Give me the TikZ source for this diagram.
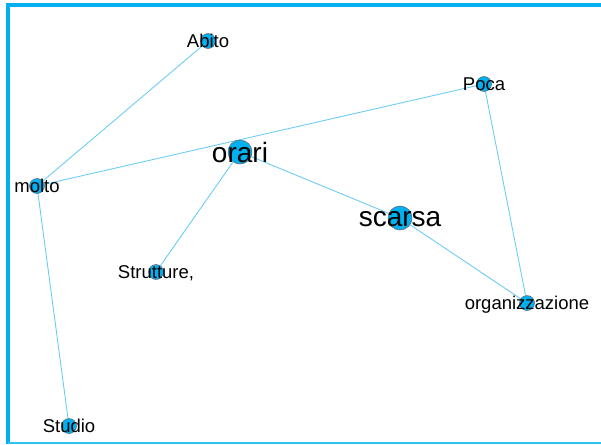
\documentclass[tikz,border=0pt]{standalone}
\usepackage{fontspec}
\setmainfont{Liberation Sans}
\usetikzlibrary{backgrounds}
\definecolor{nodeblue}{RGB}{0,176,240}
\definecolor{edgeblue}{RGB}{110,205,245}

\begin{document}
\begin{tikzpicture}[
  x=1pt,y=-1pt,
  vtx/.style={draw=black!60,line width=0.5pt,circle,fill=nodeblue,inner sep=0pt,
              minimum size=15pt},
  big/.style={vtx,minimum size=24pt},
  lab/.style={inner sep=0pt,text height=13.3pt,text depth=0pt,
              font=\fontsize{18.5}{20}\selectfont},
  biglab/.style={lab,text height=20.2pt,font=\fontsize{28}{30}\selectfont},
  link/.style={draw=edgeblue,line width=0.9pt}
]
\useasboundingbox (0,0) rectangle (601,444);

% ---- frame ----
\draw[nodeblue,line width=4pt] (8,444) -- (8,5.5) -- (601,5.5);
\draw[nodeblue!80,line width=1.5pt] (8,443) -- (601,443);

% ---- vertices ----
\node[vtx,label={[lab]center:Abito}] (abito) at (208,41) {};
\node[vtx,label={[lab]center:Poca}] (poca) at (484,84) {};
\node[big,label={[biglab]center:orari}] (orari) at (240,152) {};
\node[vtx,label={[lab]center:molto}] (molto) at (37,186) {};
\node[big,label={[biglab,yshift=2pt]center:scarsa}] (scarsa) at (400,218) {};
\node[vtx,label={[lab]center:Strutture,}] (strutture) at (156,272) {};
\node[vtx,label={[lab]center:organizzazione}] (organizz) at (527,303) {};
\node[vtx,label={[lab]center:Studio}] (studio) at (69,426) {};

% ---- links ----
\begin{scope}[on background layer]
\draw[link] (abito)--(molto);
\draw[link] (molto)--(poca);
\draw[link] (molto)--(studio);
\draw[link] (orari)--(strutture);
\draw[link] (orari)--(scarsa);
\draw[link] (scarsa)--(organizz);
\draw[link] (poca)--(organizz);
\end{scope}

\end{tikzpicture}
\end{document}
